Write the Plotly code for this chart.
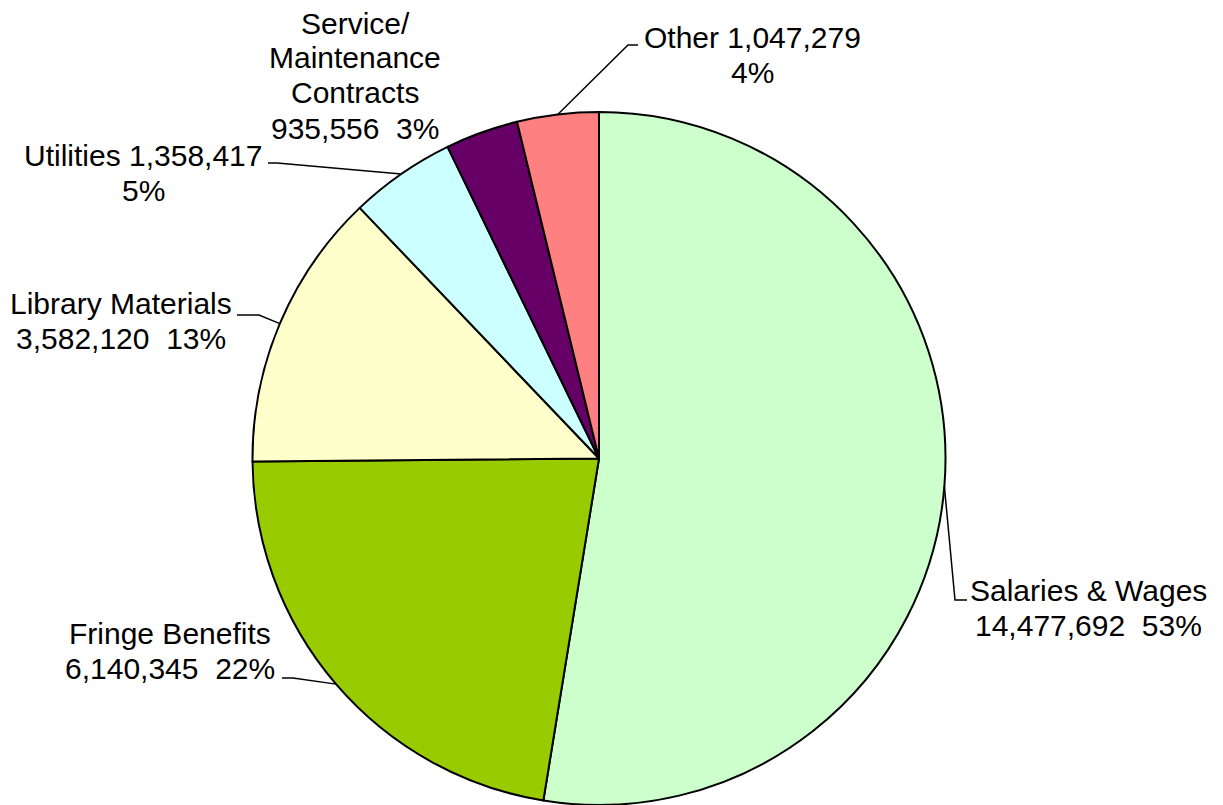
import math
import plotly.graph_objects as go

# Operating expenditure breakdown
categories = ["Salaries & Wages", "Fringe Benefits", "Library Materials",
              "Utilities", "Service/ Maintenance Contracts", "Other"]
amounts = [14477692, 6140345, 3582120, 1358417, 935556, 1047279]
colors = ["#CCFFCC", "#99CC00", "#FFFFCC", "#CCFFFF", "#660066", "#FF8080"]

# How each label is broken into lines ({v} = amount, {p} = percent)
label_lines = [
    ["Salaries & Wages", "{v}  {p}"],
    ["Fringe Benefits", "{v}  {p}"],
    ["Library Materials", "{v}  {p}"],
    ["Utilities {v}", "{p}"],
    ["Service/", "Maintenance", "Contracts", "{v}  {p}"],
    ["Other {v}", "{p}"],
]
# Label centre (px) of the first line for each slice
label_pos = [(1088, 590), (170, 633), (121, 303), (143, 155), (355, 23), (752, 37)]
# Label-side points of the leader lines (None = no leader)
leader_ends = [
    [(955, 600), (967, 600)],
    [(293, 678), (282, 678)],
    [(259, 315), (237, 315)],
    [(277, 163), (268, 163)],
    None,
    [(628, 45), (638, 45)],
]

W, H = 1223, 805
CX, CY, R = 599, 458.5, 346.5
LINE_H = 35

fig = go.Figure(go.Pie(
    labels=categories,
    values=amounts,
    sort=False,
    direction="clockwise",
    rotation=0,
    marker=dict(colors=colors, line=dict(color="black", width=2)),
    textinfo="none",
    hoverinfo="label+value+percent",
    domain=dict(x=[0, 1198 / W], y=[0, 693 / H]),
    showlegend=False,
))


def px(x, y):
    return x / W, (H - y) / H


total = sum(amounts)
annotations = []
shapes = []
cum = 0.0
for i, (cat, val) in enumerate(zip(categories, amounts)):
    frac = val / total
    mid = (cum + frac / 2) * 2 * math.pi
    cum += frac
    pct = f"{round(frac * 100)}%"
    vtxt = f"{val:,}"
    lx, ly = label_pos[i]
    for k, line in enumerate(label_lines[i]):
        x, y = px(lx, ly + k * LINE_H)
        annotations.append(dict(
            x=x, y=y, xref="paper", yref="paper",
            text=line.format(v=vtxt, p=pct), showarrow=False,
            xanchor="center", yanchor="middle",
            font=dict(family="Liberation Sans, Arial, sans-serif", size=30, color="black"),
        ))
    if leader_ends[i]:
        ex, ey = CX + R * math.sin(mid), CY - R * math.cos(mid)
        pts = [(ex, ey)] + leader_ends[i]
        path = "M " + " L ".join(f"{px(a, b)[0]},{px(a, b)[1]}" for a, b in pts)
        shapes.append(dict(type="path", xref="paper", yref="paper", path=path,
                           line=dict(color="black", width=1.5)))

fig.update_layout(
    width=W, height=H,
    margin=dict(l=0, r=0, t=0, b=0),
    paper_bgcolor="white",
    plot_bgcolor="white",
    annotations=annotations,
    shapes=shapes,
)

fig.write_html("out.html")
